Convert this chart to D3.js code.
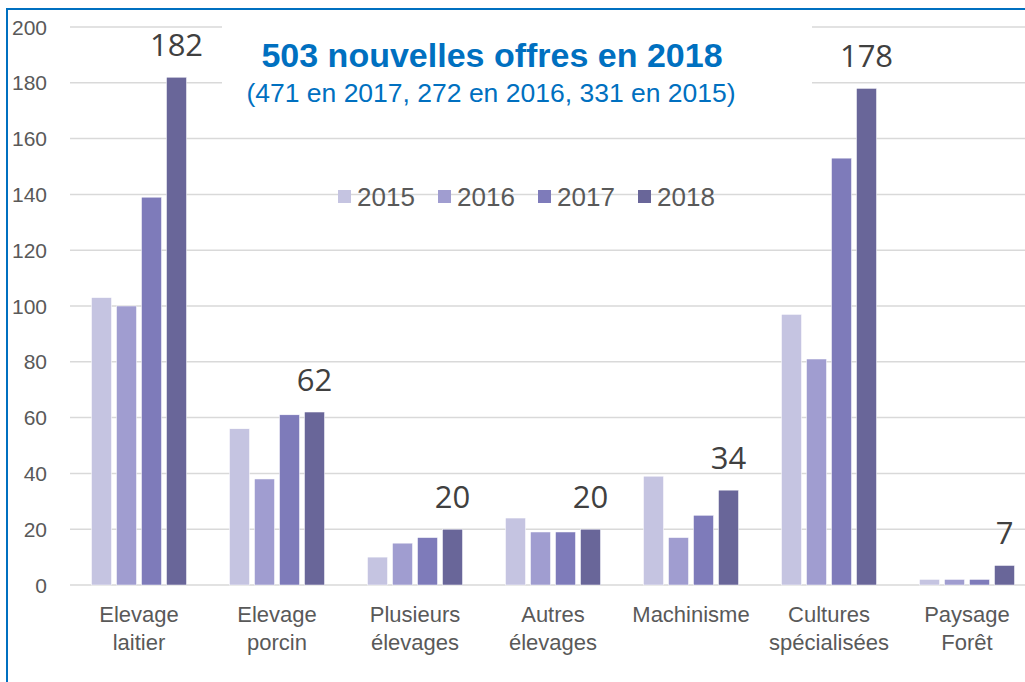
<!DOCTYPE html>
<html>
<head>
<meta charset="utf-8">
<script src="https://d3js.org/d3.v7.min.js"></script>
<style>
  body { margin: 0; background: #fff; }
  svg { display: block; }
</style>
</head>
<body>
<script>
const W = 1025, H = 682
const categories = [["Elevage", "laitier"], ["Elevage", "porcin"], ["Plusieurs", "élevages"],
    ["Autres", "élevages"], ["Machinisme"], ["Cultures", "spécialisées"], ["Paysage", "Forêt"]]
const years = ["2015", "2016", "2017", "2018"]
const v2015 = [103, 56, 10, 24, 39, 97, 2]
const v2016 = [100, 38, 15, 19, 17, 81, 2]
const v2017 = [139, 61, 17, 19, 25, 153, 2]
const v2018 = [182, 62, 20, 20, 34, 178, 7]
const yTicks = [0, 20, 40, 60, 80, 100, 120, 140, 160, 180, 200]
const colors = ["#c5c4e1", "#a09dd0", "#7e7bba", "#696699"]

const series = [v2015, v2016, v2017, v2018]
const margin = { left: 70, top: 27, bottom: 585 }
const groupW = 95

const svg = d3.select("body").append("svg").attr("width", W).attr("height", H)

const x = d3.scaleBand().domain(d3.range(categories.length)).range([margin.left, margin.left + 138 * 7])
const xi = d3.scaleBand().domain(years).range([0, groupW]).paddingInner(0.2)
const y = d3.scaleLinear().domain([0, 200]).range([margin.bottom, margin.top])

// gridlines
svg.append("g").selectAll("line").data(yTicks).join("line")
    .attr("x1", margin.left).attr("x2", margin.left + 138 * 7)
    .attr("y1", d => y(d)).attr("y2", d => y(d))
    .attr("stroke", "#d9d9d9").attr("stroke-width", 1.5)

// y tick labels
svg.append("g").selectAll("text").data(yTicks).join("text")
    .attr("x", 47).attr("y", d => y(d)).attr("dy", "0.36em")
    .attr("text-anchor", "end")
    .style("font", "21px 'Liberation Sans', Arial, sans-serif").attr("fill", "#595959")
    .text(d => d)

// bars
const groups = svg.append("g").selectAll("g").data(categories).join("g")
    .attr("transform", (d, i) => `translate(${x(i) + (x.bandwidth() - groupW) / 2},0)`)
groups.selectAll("rect").data((d, i) => series.map((s, k) => ({ year: years[k], v: s[i], k })))
    .join("rect")
    .attr("x", d => xi(d.year)).attr("width", xi.bandwidth())
    .attr("y", d => y(d.v)).attr("height", d => y(0) - y(d.v))
    .attr("fill", d => colors[d.k])
    .attr("stroke", "#fff").attr("stroke-width", 0.5)

// 2018 labels
groups.append("text")
    .attr("x", xi("2018") + xi.bandwidth() / 2)
    .attr("y", (d, i) => y(v2018[i]) - 21)
    .attr("text-anchor", "middle")
    .style("font", "31px 'Open Sans', sans-serif").attr("fill", "#404040")
    .text((d, i) => v2018[i])

// category labels
svg.append("g").selectAll("text").data(categories).join("text")
    .attr("x", (d, i) => x(i) + x.bandwidth() / 2)
    .attr("text-anchor", "middle")
    .style("font", "22px 'Liberation Sans', Arial, sans-serif").attr("fill", "#595959")
    .each(function (d) {
        d3.select(this).selectAll("tspan").data(d).join("tspan")
            .attr("x", d3.select(this).attr("x"))
            .attr("y", (t, j) => 622 + j * 28)
            .text(t => t)
    })

// title box
svg.append("rect").attr("x", 222).attr("y", 14).attr("width", 590).attr("height", 106).attr("fill", "#fff")
svg.append("text").attr("x", 492).attr("y", 67).attr("text-anchor", "middle")
    .style("font", "bold 34px 'Liberation Sans', Arial, sans-serif").attr("fill", "#0070c0")
    .text("503 nouvelles offres en 2018")
svg.append("text").attr("x", 491).attr("y", 102).attr("text-anchor", "middle")
    .style("font", "26.5px 'Liberation Sans', Arial, sans-serif").attr("fill", "#0070c0")
    .text("(471 en 2017, 272 en 2016, 331 en 2015)")

// legend
const lg = svg.append("g").selectAll("g").data(years).join("g")
    .attr("transform", (d, i) => `translate(${338 + i * 100},190)`)
lg.append("rect").attr("width", 13).attr("height", 13).attr("fill", (d, i) => colors[i])
lg.append("text").attr("x", 19).attr("y", 7).attr("dy", "0.36em")
    .style("font", "26px 'Liberation Sans', Arial, sans-serif").attr("fill", "#595959")
    .text(d => d)

// outer border
svg.append("rect").attr("x", 7).attr("y", 9).attr("width", 1040).attr("height", 700)
    .attr("fill", "none").attr("stroke", "#0070c0").attr("stroke-width", 2)
</script>
</body>
</html>
